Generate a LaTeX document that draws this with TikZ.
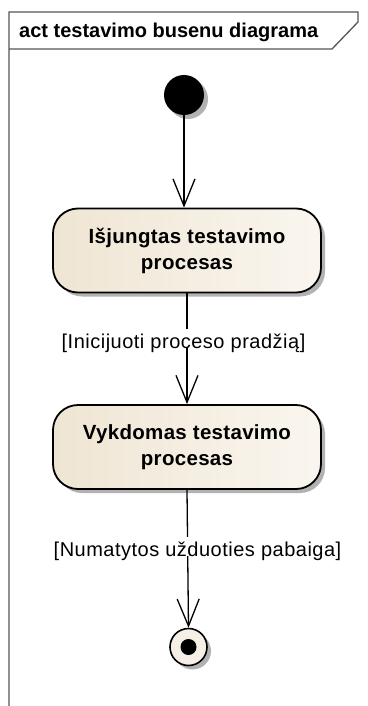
\documentclass[tikz,border=0pt]{standalone}
\usepackage{fontspec}
\setmainfont{Liberation Sans}
\usetikzlibrary{arrows.meta,shadows}
\definecolor{actleft}{HTML}{EFE5D3}
\definecolor{actright}{HTML}{FAF6EF}
\definecolor{framegray}{HTML}{555555}
\tikzset{
  softshadow/.style={drop shadow={shadow xshift=4pt,shadow yshift=-4pt,fill=black!30,opacity=1}},
  action/.style={draw=black,line width=1.8pt,rounded corners=25pt,
    minimum width=268pt,minimum height=84pt,left color=actleft,right color=actright,
    softshadow,align=center,font=\fontsize{20.5}{26}\selectfont\bfseries\addfontfeatures{LetterSpace=1.5}},
  initnode/.style={circle,fill=black,minimum size=40pt,inner sep=0pt,softshadow},
  finalnode/.style={circle,draw=black,line width=1.6pt,fill=actleft!60!white,
    minimum size=37pt,inner sep=0pt,softshadow},
  finaldot/.style={circle,fill=black,minimum size=16pt,inner sep=0pt},
  flow/.style={line width=1.3pt,-{Straight Barb[length=27pt,width=22pt,line width=1.3pt]}},
  guard/.style={fill=white,inner xsep=1pt,inner ysep=0pt,text height=19pt,text depth=-3pt,
    anchor=base,font=\fontsize{20}{24}\selectfont\addfontfeatures{LetterSpace=2.5}},
  frameline/.style={draw=framegray,line width=1.3pt},
  titletext/.style={anchor=base west,inner sep=0pt,font=\fontsize{20}{24}\selectfont\bfseries}
}
\begin{document}
\begin{tikzpicture}[x=1pt,y=-1pt]
  \useasboundingbox (0,0) rectangle (367,706);
  % diagram frame and its header tab
  \draw[frameline] (9,706) -- (9,12) -- (358,12) -- (358,22) -- (332,49) -- (9,49);
  \node[titletext] (title) at (19,38) {act testavimo busenu diagrama};

  % states
  \node[initnode] (init) at (184,95) {};
  \node[action] (box1) at (187,250.5) {Išjungtas testavimo\\procesas};
  \node[action] (box2) at (187,447) {Vykdomas testavimo\\procesas};
  \node[finalnode] (final) at (188.5,647) {};
  \node[finaldot] (finaldot) at (final) {};

  % transitions
  \draw[flow] (init) -- (init |- box1.north);
  \draw[flow] (box1.south) -- (box2.north);
  \draw[flow] (box2.south) -- (final.north);

  % guards
  \node[guard] (g1) at (183.5,348) {[Inicijuoti proceso pradžią]};
  \node[guard] (g2) at (197.5,556) {[Numatytos užduoties pabaiga]};
\end{tikzpicture}
\end{document}
